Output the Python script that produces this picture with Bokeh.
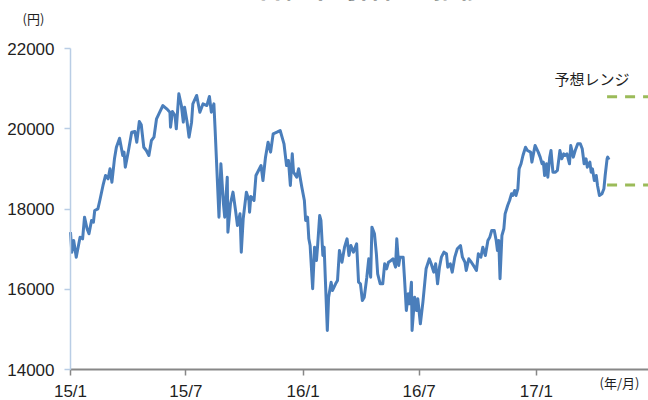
import pandas as pd
from bokeh.plotting import figure
from bokeh.models import ColumnDataSource, FixedTicker, Label, Range1d
from bokeh.embed import file_html
from bokeh.resources import INLINE

title_text = "日経平均株価の推移"
y_unit = "(円)"
x_unit = "(年/月)"
range_label = "予想レンジ"

dates = [
    "2015-01-01", "2015-01-03", "2015-01-06", "2015-01-10", "2015-01-16", "2015-01-20",
    "2015-01-23", "2015-01-27", "2015-01-30", "2015-02-03", "2015-02-06", "2015-02-08",
    "2015-02-13", "2015-02-16", "2015-02-21", "2015-02-25", "2015-03-01", "2015-03-04",
    "2015-03-07", "2015-03-11", "2015-03-14", "2015-03-19", "2015-03-24", "2015-03-26",
    "2015-03-28", "2015-04-02", "2015-04-07", "2015-04-12", "2015-04-15", "2015-04-19",
    "2015-04-22", "2015-04-26", "2015-04-30", "2015-05-04", "2015-05-08", "2015-05-12",
    "2015-05-16", "2015-05-21", "2015-05-26", "2015-06-01", "2015-06-06", "2015-06-07",
    "2015-06-10", "2015-06-14", "2015-06-16", "2015-06-20", "2015-06-24", "2015-06-27",
    "2015-06-29", "2015-07-03", "2015-07-06", "2015-07-10", "2015-07-12", "2015-07-18",
    "2015-07-23", "2015-07-28", "2015-08-03", "2015-08-07", "2015-08-10", "2015-08-14",
    "2015-08-16", "2015-08-22", "2015-08-25", "2015-08-29", "2015-08-31", "2015-09-04",
    "2015-09-05", "2015-09-09", "2015-09-13", "2015-09-17", "2015-09-20", "2015-09-24",
    "2015-09-26", "2015-09-29", "2015-10-04", "2015-10-08", "2015-10-09", "2015-10-11",
    "2015-10-16", "2015-10-19", "2015-10-23", "2015-10-27", "2015-10-30", "2015-11-03",
    "2015-11-07", "2015-11-11", "2015-11-15", "2015-11-21", "2015-11-26", "2015-11-29",
    "2015-12-02", "2015-12-06", "2015-12-09", "2015-12-12", "2015-12-15", "2015-12-17",
    "2015-12-22", "2015-12-25", "2015-12-30", "2016-01-03", "2016-01-05", "2016-01-08",
    "2016-01-10", "2016-01-12", "2016-01-16", "2016-01-19", "2016-01-22", "2016-01-24",
    "2016-01-27", "2016-01-29", "2016-02-01", "2016-02-03", "2016-02-08", "2016-02-10",
    "2016-02-14", "2016-02-16", "2016-02-21", "2016-02-24", "2016-02-27", "2016-03-02",
    "2016-03-06", "2016-03-10", "2016-03-13", "2016-03-16", "2016-03-20", "2016-03-25",
    "2016-03-28", "2016-03-31", "2016-04-03", "2016-04-06", "2016-04-10", "2016-04-13",
    "2016-04-16", "2016-04-18", "2016-04-22", "2016-04-25", "2016-04-27", "2016-05-01",
    "2016-05-05", "2016-05-08", "2016-05-11", "2016-05-14", "2016-05-18", "2016-05-21",
    "2016-05-25", "2016-05-27", "2016-05-30", "2016-06-01", "2016-06-06", "2016-06-08",
    "2016-06-11", "2016-06-14", "2016-06-16", "2016-06-19", "2016-06-20", "2016-06-24",
    "2016-06-27", "2016-06-29", "2016-07-03", "2016-07-07", "2016-07-10", "2016-07-12",
    "2016-07-17", "2016-07-20", "2016-07-24", "2016-07-27", "2016-07-30", "2016-08-02",
    "2016-08-05", "2016-08-09", "2016-08-13", "2016-08-15", "2016-08-19", "2016-08-22",
    "2016-08-26", "2016-08-30", "2016-09-04", "2016-09-07", "2016-09-11", "2016-09-13",
    "2016-09-17", "2016-09-21", "2016-09-26", "2016-09-29", "2016-10-02", "2016-10-06",
    "2016-10-09", "2016-10-13", "2016-10-17", "2016-10-20", "2016-10-23", "2016-10-27",
    "2016-10-30", "2016-11-01", "2016-11-03", "2016-11-05", "2016-11-08", "2016-11-11",
    "2016-11-13", "2016-11-17", "2016-11-20", "2016-11-23", "2016-11-25", "2016-11-28",
    "2016-11-30", "2016-12-03", "2016-12-05", "2016-12-08", "2016-12-11", "2016-12-15",
    "2016-12-18", "2016-12-23", "2016-12-25", "2016-12-28", "2016-12-30", "2017-01-04",
    "2017-01-07", "2017-01-10", "2017-01-12", "2017-01-14", "2017-01-17", "2017-01-19",
    "2017-01-22", "2017-01-24", "2017-01-27", "2017-01-31", "2017-02-03", "2017-02-07",
    "2017-02-10", "2017-02-13", "2017-02-15", "2017-02-18", "2017-02-22", "2017-02-24",
    "2017-02-28", "2017-03-03", "2017-03-07", "2017-03-11", "2017-03-14", "2017-03-17",
    "2017-03-20", "2017-03-22", "2017-03-26", "2017-03-28", "2017-03-30", "2017-04-02",
    "2017-04-05", "2017-04-07", "2017-04-10", "2017-04-14", "2017-04-17", "2017-04-19",
    "2017-04-22", "2017-04-23", "2017-04-25",
]

prices = [
    17422, 16924, 17215, 16800, 17298, 17257,
    17796, 17507, 17382, 17714, 17672, 17963,
    18005, 18212, 18586, 18835, 18752, 19002,
    18668, 19251, 19540, 19765, 19334, 19417,
    19042, 19458, 19915, 19932, 19665, 20181,
    20099, 19540, 19458, 19334, 19707, 19790,
    20248, 20413, 20579, 20497, 20413, 20039,
    20430, 20331, 19999, 20871, 20579, 20165,
    20538, 20165, 19790, 20165, 20621, 20829,
    20413, 20621, 20579, 20804, 20413, 20621,
    19957, 17796, 19127, 18130, 17796, 18793,
    17422, 18130, 18420, 17963, 17589, 17880,
    16924, 17756, 18420, 18212, 17921, 18312,
    18212, 18835, 18960, 19084, 18710, 19292,
    19665, 19417, 19873, 19915, 19957, 19790,
    19625, 19084, 19209, 18586, 19376, 18918,
    18793, 19002, 18544, 18212, 17714, 17796,
    17257, 17091, 16012, 17049, 16717, 17133,
    17838, 17714, 16842, 17049, 14972, 15803,
    16176, 15969, 16135, 16218, 16966, 16674,
    17049, 17257, 16842, 17091, 16924, 17133,
    16176, 16135, 15720, 15803, 16301, 16758,
    16301, 17548, 17382, 16884, 16386, 16135,
    16135, 16634, 16509, 16674, 16717, 16758,
    16550, 17257, 16592, 16799, 16799, 16301,
    15471, 15886, 15637, 16176, 14972, 15803,
    15471, 15762, 15139, 15679, 16176, 16509,
    16758, 16634, 16426, 16634, 16135, 16550,
    16799, 16924, 16884, 16550, 16634, 16426,
    16799, 17008, 17091, 16799, 16674, 16467,
    16758, 16674, 16550, 16467, 16884, 16799,
    17049, 16842, 17215, 17298, 17464, 17464,
    17215, 16966, 17215, 16261, 17340, 17507,
    17880, 18088, 18212, 18379, 18337, 18462,
    18337, 18503, 19002, 19127, 19334, 19540,
    19458, 19417, 19168, 19417, 19583, 19417,
    19292, 19127, 19168, 18835, 19127, 18793,
    19292, 19458, 18918, 18918, 18960, 19458,
    19251, 19376, 19334, 19376, 19127, 19583,
    19292, 19458, 19625, 19625, 19500, 19127,
    19251, 19042, 19168, 18918, 19002, 18710,
    18835, 18586, 18337, 18379, 18503, 18835,
    19251, 19292, 19230,
]

forecast_dates = ["2017-04-22", "2017-06-26"]
forecast_high = 20800
forecast_low = 18600

y_ticks = [14000, 16000, 18000, 20000, 22000]
y_tick_labels = ["14000", "16000", "18000", "20000", "22000"]
x_tick_dates = ["2015-01-01", "2015-07-01", "2016-01-01", "2016-07-01", "2017-01-01"]
x_tick_labels = ["15/1", "15/7", "16/1", "16/7", "17/1"]
x_start, x_end = "2015-01-01", "2017-06-26"
y_start, y_end = 14000, 22000


def ms(d):
    return pd.Timestamp(d).value / 1e6


# layout (pixels) of the axes box inside the 648x400 canvas
W, H = 648, 400
AX_L, AX_R, AX_T, AX_B = 70, 648, 48, 369

TEXT = "#1f1f1f"
NUM_FONT = "Liberation Sans"
JP_FONT = "Noto Sans CJK JP"

x0, x1 = ms(x_start), ms(x_end)
ms_per_px = (x1 - x0) / (AX_R - AX_L)
u_per_px = (y_end - y_start) / (AX_B - AX_T)

p = figure(
    width=W, height=H, output_backend="svg", toolbar_location=None,
    x_axis_type="datetime", x_axis_location="above", y_axis_location="right",
    x_range=Range1d(x0 - AX_L * ms_per_px, x1 + (W - AX_R) * ms_per_px),
    y_range=Range1d(y_start - (H - AX_B) * u_per_px, y_end + AX_T * u_per_px),
    min_border=0, min_border_left=0, min_border_right=0,
    min_border_top=0, min_border_bottom=0,
)
p.outline_line_color = None
p.xgrid.visible = False
p.ygrid.visible = False
p.background_fill_color = "white"
p.border_fill_color = "white"

src = ColumnDataSource(dict(x=pd.to_datetime(dates), y=prices))
p.line("x", "y", source=src, line_width=3, line_color="#4A7EBB", line_join="round")

fx = pd.to_datetime(forecast_dates)
for lvl in (forecast_high, forecast_low):
    p.line(fx, [lvl, lvl], line_width=3, line_color="#9BBB59", line_dash="10 8")

# y axis: drawn at the first date, ticks pointing left (labels drawn separately)
ya = p.yaxis[0]
ya.fixed_location = x0
ya.bounds = (y_start, y_end)
ya.ticker = FixedTicker(ticks=y_ticks)
ya.axis_line_color = "#B9CDE5"
ya.axis_line_width = 1.5
ya.major_tick_line_color = "#B9CDE5"
ya.major_tick_line_width = 1.5
ya.major_tick_in = 6
ya.major_tick_out = 0
ya.minor_tick_out = 0
ya.minor_tick_in = 0
ya.major_label_standoff = 0
ya.major_label_text_font_size = "0px"
ya.major_label_text_color = None

# x axis: drawn at the lowest value, ticks pointing down (labels drawn separately)
tick_ms = [ms(d) for d in x_tick_dates]
xa = p.xaxis[0]
xa.fixed_location = y_start
xa.bounds = (x0, x1)
xa.ticker = FixedTicker(ticks=tick_ms)
xa.axis_line_color = "#878787"
xa.axis_line_width = 2
xa.major_tick_line_color = "#878787"
xa.major_tick_line_width = 1.5
xa.major_tick_in = 6
xa.major_tick_out = 0
xa.minor_tick_out = 0
xa.minor_tick_in = 0
xa.major_label_standoff = 0
xa.major_label_text_font_size = "0px"
xa.major_label_text_color = None

# tick labels
for v, lab in zip(y_ticks, y_tick_labels):
    p.add_layout(Label(x=x0, y=v, x_offset=-16, text=lab,
                       text_align="right", text_baseline="middle",
                       text_font=NUM_FONT, text_font_size="17px", text_color=TEXT))
for t, lab in zip(tick_ms, x_tick_labels):
    p.add_layout(Label(x=t, y=y_start, y_offset=-12, text=lab,
                       text_align="center", text_baseline="top",
                       text_font=NUM_FONT, text_font_size="17px", text_color=TEXT))

# other texts
p.add_layout(Label(x=x0, y=y_end, x_offset=-37, y_offset=30, text=y_unit,
                   text_align="center", text_baseline="middle",
                   text_font=JP_FONT, text_font_size="13px", text_color=TEXT))
p.add_layout(Label(x=x1, y=y_start, x_offset=-29, y_offset=-13, text=x_unit,
                   text_align="center", text_baseline="middle",
                   text_font=JP_FONT, text_font_size="13px", text_color=TEXT))
p.add_layout(Label(x=ms(forecast_dates[0]), y=forecast_high,
                   x_offset=-15, y_offset=18,
                   text=range_label, text_align="center", text_baseline="middle",
                   text_font=JP_FONT, text_font_size="15px", text_color=TEXT))
p.add_layout(Label(x=x0, y=y_end, x_offset=300, y_offset=44, text=title_text,
                   text_align="center", text_baseline="bottom",
                   text_font=JP_FONT, text_font_size="25px", text_font_style="bold",
                   text_color="#000000"))

open("out.html", "w").write(file_html(p, INLINE))
